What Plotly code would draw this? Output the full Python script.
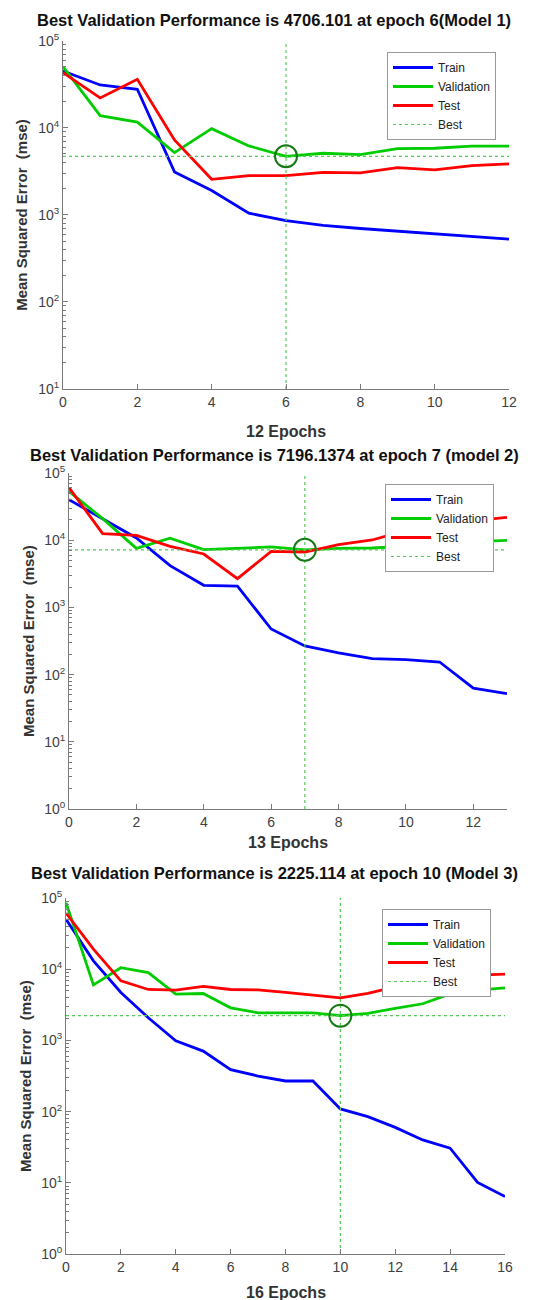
import plotly.graph_objects as go

# ---------------- data ----------------
epochs1 = list(range(13))
train1 = [44900, 31000, 27700, 3110, 1900, 1045, 860, 755, 697, 650, 595, 560, 526]
valid1 = [50300, 13800, 11600, 5190, 9770, 6190, 4706.101, 5100, 4920, 5770, 5820, 6140, 6140]
test1 = [43000, 22000, 36000, 7250, 2560, 2820, 2820, 3080, 3030, 3490, 3280, 3680, 3850]
best_epoch1, best_val1 = 6, 4706.101

epochs2 = list(range(14))
train2 = [40100, 20600, 10800, 4180, 2130, 2080, 477, 267, 210, 173, 167, 154, 63, 52]
valid2 = [53300, 20900, 7570, 10700, 7230, 7660, 7930, 7196.1374, 7560, 7660, 8110, 8600, 9500, 9950]
test2 = [60500, 12500, 11800, 8110, 6230, 2680, 6830, 6670, 8580, 10070, 14000, 17500, 19500, 21900]
best_epoch2, best_val2 = 7, 7196.1374

epochs3 = list(range(17))
train3 = [50200, 13100, 4710, 2080, 990, 708, 388, 316, 269, 269, 109, 85, 60, 40, 30.6, 10.1, 6.4]
valid3 = [86000, 6020, 10500, 8970, 4460, 4560, 2870, 2440, 2440, 2440, 2225.114, 2390, 2810, 3270, 4510, 5080, 5470]
test3 = [61600, 19100, 6860, 5190, 5080, 5720, 5190, 5130, 4710, 4370, 3960, 4560, 5650, 6290, 7200, 8250, 8510]
best_epoch3, best_val3 = 10, 2225.114

titles = [
    "Best Validation Performance is 4706.101 at epoch 6(Model 1)",
    "Best Validation Performance is 7196.1374 at epoch 7 (model 2)",
    "Best Validation Performance is 2225.114 at epoch 10 (Model 3)",
]
xlabels = ["12 Epochs", "13 Epochs", "16 Epochs"]
ylabel = "Mean Squared Error  (mse)"
series_names = ["Train", "Validation", "Test", "Best"]

# ---------------- layout geometry ----------------
# the page body adds an 8px margin, so the figure is drawn 8px in from the top-left
OFF = 8
W, H = 552 - OFF, 1300 - OFF
px = lambda x: (x - OFF) / W
py = lambda y: 1 - (y - OFF) / H

panels = [
    dict(ep=epochs1, tr=train1, va=valid1, te=test1, be=best_epoch1, bv=best_val1,
         xr=[0, 12], yr=[1, 5], x0=63, x1=509, y0=40.7, y1=389, leg=(496, 52),
         title_y=20, xlab_y=431, ylab_x=22),
    dict(ep=epochs2, tr=train2, va=valid2, te=test2, be=best_epoch2, bv=best_val2,
         xr=[0, 13], yr=[0, 5], x0=69, x1=507, y0=473, y1=809, leg=(494, 484),
         title_y=455, xlab_y=842, ylab_x=28),
    dict(ep=epochs3, tr=train3, va=valid3, te=test3, be=best_epoch3, bv=best_val3,
         xr=[0, 16], yr=[0, 5], x0=66, x1=505, y0=898, y1=1254, leg=(491, 909),
         title_y=873, xlab_y=1292, ylab_x=25),
]

BLUE, GREEN, RED = "#0000FF", "#00CC00", "#FF0000"
BEST_DOT = "#55C855"
CIRCLE = "#157A15"
FONT = "Liberation Sans, Arial, sans-serif"
TICKC = "#404040"
AXC = "#7a7a7a"

fig = go.Figure()
annotations = []
layout = {}

for i, p in enumerate(panels):
    n = "" if i == 0 else str(i + 1)
    xa, ya = "x" + n, "y" + n
    leg = "legend" + n
    ymin, ymax = 10 ** p["yr"][0], 10 ** p["yr"][1]

    common = dict(xaxis=xa, yaxis=ya, legend=leg, mode="lines")
    fig.add_trace(go.Scatter(x=p["ep"], y=p["tr"], name=series_names[0],
                             line=dict(color=BLUE, width=2.8), **common))
    fig.add_trace(go.Scatter(x=p["ep"], y=p["va"], name=series_names[1],
                             line=dict(color=GREEN, width=2.8), **common))
    fig.add_trace(go.Scatter(x=p["ep"], y=p["te"], name=series_names[2],
                             line=dict(color=RED, width=2.8), **common))
    fig.add_trace(go.Scatter(x=[p["xr"][0], p["xr"][1]], y=[p["bv"], p["bv"]],
                             name=series_names[3],
                             line=dict(color=BEST_DOT, width=1.2, dash="dot"), **common))
    fig.add_trace(go.Scatter(x=[p["be"], p["be"]], y=[ymin, ymax], showlegend=False,
                             line=dict(color=BEST_DOT, width=1.2, dash="dot"), **common))
    fig.add_trace(go.Scatter(x=[p["be"]], y=[p["bv"]], mode="markers", showlegend=False,
                             xaxis=xa, yaxis=ya, legend=leg,
                             marker=dict(symbol="circle-open", size=22,
                                         color=CIRCLE, line=dict(width=2, color=CIRCLE))))

    decades = list(range(p["yr"][0], p["yr"][1] + 1))
    minor_vals = [k * 10 ** d for d in decades[:-1] for k in range(2, 10)]
    layout["xaxis" + n] = dict(
        domain=[px(p["x0"]), px(p["x1"])], anchor=ya, range=p["xr"],
        tickmode="linear", tick0=0, dtick=2, ticks="inside", ticklen=5,
        tickcolor=AXC, showline=True, linecolor=AXC, linewidth=1,
        showgrid=False, zeroline=False, mirror=False, automargin=False,
        tickfont=dict(family=FONT, size=14, color=TICKC),
    )
    layout["yaxis" + n] = dict(
        domain=[py(p["y1"]), py(p["y0"])], anchor=xa, type="log", range=p["yr"],
        tickmode="array",
        tickvals=[10 ** d for d in decades],
        ticktext=["10<sup>%d</sup>" % d for d in decades],
        ticks="inside", ticklen=5, tickcolor=AXC,
        minor=dict(tickmode="array", tickvals=minor_vals, ticks="inside",
                   ticklen=3, tickcolor=AXC, showgrid=False),
        showline=True, linecolor=AXC, linewidth=1,
        showgrid=False, zeroline=False, mirror=False, automargin=False,
        tickfont=dict(family=FONT, size=14, color=TICKC),
    )
    layout[leg] = dict(
        x=px(p["leg"][0]), y=py(p["leg"][1]), xanchor="right", yanchor="top",
        bgcolor="white", bordercolor="#999", borderwidth=1,
        font=dict(family=FONT, size=12, color="#222"),
        itemwidth=40, tracegroupgap=0,
    )

    cx = (p["x0"] + p["x1"]) / 2
    annotations.append(dict(text="<b>%s</b>" % titles[i], x=px(274), y=py(p["title_y"]),
                            xref="paper", yref="paper", showarrow=False,
                            xanchor="center", yanchor="middle",
                            font=dict(family=FONT, size=16.5, color="#111")))
    annotations.append(dict(text="<b>%s</b>" % xlabels[i], x=px(cx), y=py(p["xlab_y"]),
                            xref="paper", yref="paper", showarrow=False,
                            xanchor="center", yanchor="middle",
                            font=dict(family=FONT, size=16, color="#333")))
    annotations.append(dict(text="<b>%s</b>" % ylabel, x=px(p["ylab_x"]),
                            y=py((p["y0"] + p["y1"]) / 2),
                            xref="paper", yref="paper", showarrow=False, textangle=-90,
                            xanchor="center", yanchor="middle",
                            font=dict(family=FONT, size=15, color="#333")))

fig.update_layout(
    width=W, height=H, margin=dict(l=0, r=0, t=0, b=0, autoexpand=False),
    paper_bgcolor="white", plot_bgcolor="white",
    annotations=annotations, **layout,
)

fig.write_html("out.html")
